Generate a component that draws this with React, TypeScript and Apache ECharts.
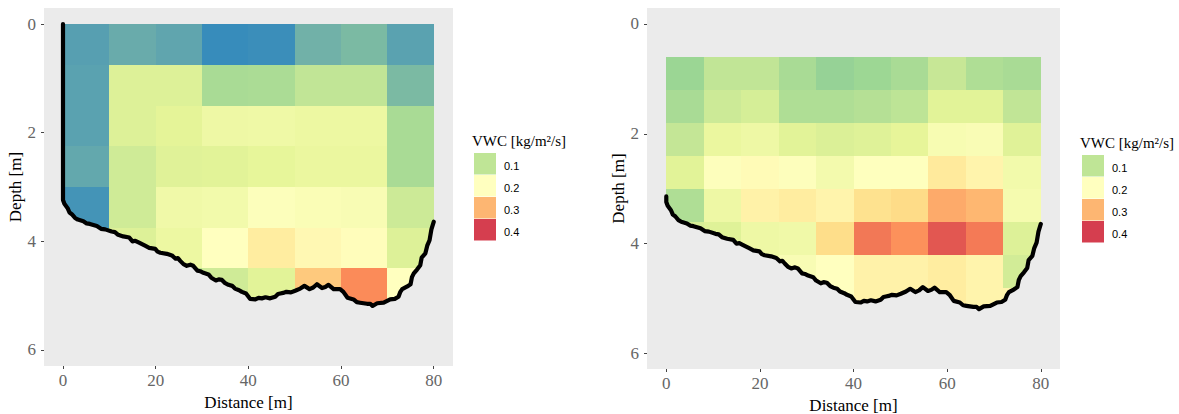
import React, { useEffect, useRef } from 'react';
import * as echarts from 'echarts';

const spectralColors = [
  '#3288BD', '#6FAFA9', '#99D594', '#C1E596', '#E6F598', '#F3FAAC', '#FFFFBF',
  '#FFF0A5', '#FEE08B', '#FEB771', '#FC8D59', '#EB6753', '#D53E4F'
];

const xTicks = [0, 20, 40, 60, 80];
const yTicks = [0, 2, 4, 6];

const legendTitle = 'VWC [kg/m\u00B2/s]';
const legendLabels = ['0.1', '0.2', '0.3', '0.4'];
const legendColors = ['#BFE596', '#FFFFBF', '#FDB672', '#D53E4F'];

// rows run top to bottom, 10 m by 0.75 m cells
const leftValues = [
  [0.02, 0.03, 0.025, 0.003, 0.005, 0.035, 0.043, 0.022],
  [0.022, 0.125, 0.125, 0.08, 0.082, 0.1, 0.1, 0.043],
  [0.022, 0.125, 0.132, 0.155, 0.157, 0.15, 0.15, 0.08],
  [0.027, 0.113, 0.128, 0.13, 0.137, 0.145, 0.145, 0.08],
  [0.01, 0.113, 0.16, 0.165, 0.193, 0.185, 0.18, 0.11],
  [0.05, 0.125, 0.15, 0.2, 0.24, 0.215, 0.205, 0.125],
  [0.1, 0.1, 0.1, 0.113, 0.13, 0.285, 0.335, 0.2]
];

// 8 m by 0.6 m cells, first row starts at 0.6 m
const rightValues = [
  [0.068, 0.1, 0.1, 0.08, 0.064, 0.07, 0.08, 0.105, 0.085, 0.08],
  [0.08, 0.11, 0.118, 0.085, 0.085, 0.09, 0.097, 0.13, 0.13, 0.1],
  [0.103, 0.145, 0.155, 0.13, 0.123, 0.127, 0.135, 0.178, 0.182, 0.128],
  [0.13, 0.195, 0.21, 0.195, 0.168, 0.198, 0.198, 0.245, 0.225, 0.165],
  [0.085, 0.155, 0.23, 0.24, 0.225, 0.262, 0.27, 0.31, 0.3, 0.172],
  [0.12, 0.127, 0.155, 0.16, 0.268, 0.352, 0.33, 0.38, 0.35, 0.125],
  [0.12, 0.12, 0.15, 0.18, 0.2, 0.228, 0.228, 0.24, 0.225, 0.115],
  [0.12, 0.12, 0.15, 0.18, 0.2, 0.228, 0.228, 0.24, 0.225, 0.225]
];

const bedProfile: number[][] = [
  [0, 3.24], [0.3, 3.31], [1, 3.39], [1.4, 3.47], [1.9, 3.5], [2.6, 3.57], [3.2, 3.6], [4.4, 3.63], [5.1, 3.67], [5.8, 3.68], [7.3, 3.72],
  [8.2, 3.77], [9.1, 3.78], [10.5, 3.82], [11.2, 3.83], [11.9, 3.88], [13, 3.91], [14.3, 3.93], [15, 4], [15.6, 3.99], [16.3, 4.02], [17.7, 4.08],
  [18.6, 4.12], [19.9, 4.14], [20.4, 4.19], [21, 4.21], [22.4, 4.23], [23.5, 4.26], [24.3, 4.32], [24.8, 4.31], [25.3, 4.36], [26, 4.42], [26.7, 4.45],
  [27.5, 4.43], [28.1, 4.45], [29, 4.54], [29.6, 4.55], [30.3, 4.58], [31.4, 4.61], [32, 4.67], [33, 4.72], [33.6, 4.7], [34.3, 4.71], [35, 4.77], [35.7, 4.8], [36.5, 4.82], [37.1, 4.87],
  [38, 4.9], [38.6, 4.93], [39.5, 4.96], [40.4, 5.06], [41.5, 5.07], [42.2, 5.04], [42.9, 5.05], [43.7, 5.03], [44.7, 5.05], [45.8, 5.02], [46.4, 4.97], [46.9, 4.96],
  [47.5, 4.95], [48.2, 4.93], [49.2, 4.94], [50.1, 4.91], [51.2, 4.87], [52.1, 4.82], [53.2, 4.88], [54, 4.85], [54.8, 4.79], [55.9, 4.86], [56.6, 4.84], [57.3, 4.8],
  [58.4, 4.88], [59.8, 4.88], [60.5, 4.93], [61.4, 5.04], [62.7, 5.07], [63.4, 5.12], [64.1, 5.13], [65.6, 5.15], [66.3, 5.15], [66.8, 5.19],
  [67.8, 5.14], [69.2, 5.13], [70.6, 5.07], [71.6, 5.06], [72.4, 5.02], [72.8, 4.93], [73.2, 4.88], [74.3, 4.83], [75, 4.79], [75.3, 4.66], [75.7, 4.59], [76.4, 4.52], [77.1, 4.44],
  [77.4, 4.3], [78.2, 4.22], [78.6, 4.08], [79.1, 3.98], [79.5, 3.78], [80, 3.64]
];

const leftBed = [[0, 0], ...bedProfile];
const rightBed = [[0, 3.14], ...bedProfile];

const SERIF = '"Liberation Serif", serif';
const SANS = '"Liberation Sans", sans-serif';

function buildCells(values: number[][], colWidth: number, rowHeight: number, rowStart: number) {
  const cells: number[][] = [];
  values.forEach((row, r) => {
    row.forEach((v, c) => {
      const y0 = rowStart + r * rowHeight;
      cells.push([c * colWidth, (c + 1) * colWidth, y0, y0 + rowHeight, v]);
    });
  });
  return cells;
}

function renderCell(_params: any, api: any) {
  const a = api.coord([api.value(0), api.value(2)]);
  const b = api.coord([api.value(1), api.value(3)]);
  const x = Math.round(a[0]);
  const y = Math.round(a[1]);
  return {
    type: 'rect',
    shape: { x, y, width: Math.round(b[0]) - x, height: Math.round(b[1]) - y },
    style: { fill: api.visual('color') }
  };
}

function xAxisFor(gridIndex: number, min: number, max: number) {
  return {
    type: 'value',
    gridIndex,
    min,
    max,
    name: 'Distance [m]',
    nameLocation: 'middle',
    nameGap: 26,
    nameTextStyle: { fontFamily: SERIF, fontSize: 17, color: '#000' },
    axisLine: { show: false, onZero: false },
    axisTick: { show: true, length: 3, customValues: xTicks, lineStyle: { color: '#444' } },
    axisLabel: { customValues: xTicks, fontFamily: SERIF, fontSize: 17, color: '#666', margin: 6 },
    splitLine: { show: false }
  };
}

function yAxisFor(gridIndex: number, min: number, max: number) {
  return {
    type: 'value',
    gridIndex,
    min,
    max,
    inverse: true,
    name: 'Depth [m]',
    nameLocation: 'middle',
    nameGap: 18,
    nameTextStyle: { fontFamily: SERIF, fontSize: 17, color: '#000' },
    axisLine: { show: false, onZero: false },
    axisTick: { show: true, length: 3, customValues: yTicks, lineStyle: { color: '#444' } },
    axisLabel: { customValues: yTicks, fontFamily: SERIF, fontSize: 17, color: '#666', margin: 8 },
    splitLine: { show: false }
  };
}

function cellSeries(index: number, data: number[][]) {
  return {
    type: 'custom',
    xAxisIndex: index,
    yAxisIndex: index,
    data,
    encode: { x: [0, 1], y: [2, 3] },
    renderItem: renderCell,
    z: 1
  };
}

// grey fill under the bed, runs a little past both banks so it covers the cell edges
function maskSeries(index: number) {
  const first = bedProfile[0];
  const last = bedProfile[bedProfile.length - 1];
  return {
    type: 'line',
    xAxisIndex: index,
    yAxisIndex: index,
    data: [[first[0] - 1, first[1]], ...bedProfile, [last[0] + 1, last[1]]],
    showSymbol: false,
    z: 2,
    lineStyle: { width: 0 },
    areaStyle: { color: '#EBEBEB', opacity: 1, origin: 'end' }
  };
}

function bedSeries(index: number, data: number[][]) {
  return {
    type: 'line',
    xAxisIndex: index,
    yAxisIndex: index,
    data,
    showSymbol: false,
    clip: false,
    z: 3,
    lineStyle: { color: '#000', width: 4.2, join: 'round', cap: 'round' }
  };
}

function legendGraphics(left: number, top: number) {
  const items: any[] = [
    {
      type: 'text',
      x: left - 2,
      y: top,
      style: { text: legendTitle, fontFamily: SERIF, fontSize: 15, fill: '#000', textVerticalAlign: 'middle' }
    }
  ];
  legendLabels.forEach((label, i) => {
    items.push({
      type: 'rect',
      shape: { x: left, y: top + 12 + i * 22, width: 22, height: 21.5 },
      style: { fill: legendColors[i] }
    });
    items.push({
      type: 'text',
      x: left + 30,
      y: top + 25 + i * 22,
      style: { text: label, fontFamily: SANS, fontSize: 11, fill: '#000', textVerticalAlign: 'middle' }
    });
  });
  return items;
}

export default function App() {
  const ref = useRef<HTMLDivElement>(null);

  useEffect(() => {
    if (!ref.current) return;
    const chart = echarts.init(ref.current, undefined, { renderer: 'svg' });
    chart.setOption({
      animation: false,
      backgroundColor: '#fff',
      grid: [
        { left: 44, top: 8, width: 409, height: 358, show: true, backgroundColor: '#EBEBEB', borderWidth: 0, outerBoundsMode: 'none' },
        { left: 647, top: 8, width: 413, height: 361, show: true, backgroundColor: '#EBEBEB', borderWidth: 0, outerBoundsMode: 'none' }
      ],
      xAxis: [xAxisFor(0, -4.1, 84.16), xAxisFor(1, -4.12, 84.1)],
      yAxis: [yAxisFor(0, -0.295, 6.295), yAxisFor(1, -0.29, 6.28)],
      visualMap: {
        show: false,
        seriesIndex: [0, 3],
        dimension: 4,
        min: 0,
        max: 0.4,
        inRange: { color: spectralColors }
      },
      series: [
        cellSeries(0, buildCells(leftValues, 10, 0.75, 0)),
        maskSeries(0),
        bedSeries(0, leftBed),
        cellSeries(1, buildCells(rightValues, 8, 0.6, 0.6)),
        maskSeries(1),
        bedSeries(1, rightBed)
      ],
      graphic: [...legendGraphics(474, 141), ...legendGraphics(1082, 143)]
    });
    return () => {
      chart.dispose();
    };
  }, []);

  return (
    <div
      ref={ref}
      style={{ position: 'absolute', left: 0, top: 0, width: 1179, height: 414 }}
    />
  );
}
